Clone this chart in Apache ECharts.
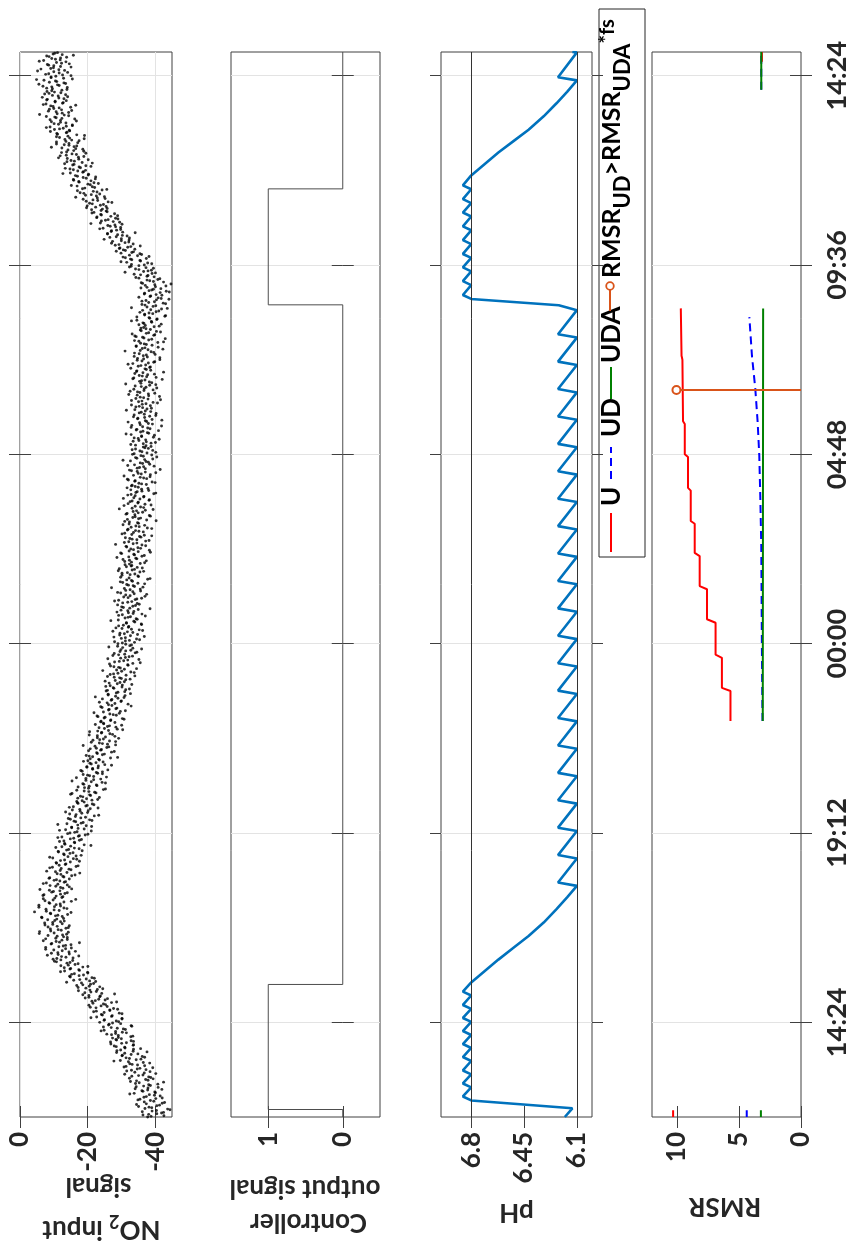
<!DOCTYPE html>
<html><head><meta charset="utf-8">
<script src="https://cdn.jsdelivr.net/npm/echarts@6/dist/echarts.min.js"></script>
<style>html,body{margin:0;padding:0;background:#fff}#c{width:851px;height:1254px}</style>
</head><body><div id="c"></div>
<script>
// ---- time axis (hours since 12:00 on day 1) ----
const timeTicks = [2.4, 7.2, 12, 16.8, 21.6, 26.4];
const timeLabels = ['14:24', '19:12', '00:00', '04:48', '09:36', '14:24'];

// ---- panel 1: NO2 input signal, one sample per minute (two interleaved lists, 2 min apart each) ----
const no2Step = 1 / 30;
const no2ValuesA = [
-37.8,-42.6,-38.1,-41.9,-36.2,-40.4,-43.7,-39.0,-35.1,-41.3,-37.4,-42.8,-39.6,-34.9,-40.2,-36.7,-41.5,-38.3,-33.8,-39.9,-36.1,-42.0,-37.9,-34.4,-38.6,-40.8,-35.3,-32.7,-37.9,-39.4,
-38.7,-33.1,-36.4,-40.2,-34.0,-31.6,-37.3,-35.5,-30.8,-36.9,-33.2,-38.4,-32.1,-29.7,-35.8,-31.4,-36.2,-30.3,-34.9,-28.6,-33.5,-29.8,-35.7,-31.0,-27.9,-33.6,-30.1,-26.8,-32.9,-28.4,
-27.4,-32.8,-29.1,-25.7,-31.5,-28.3,-24.9,-30.6,-27.0,-33.1,-26.2,-29.8,-23.6,-28.5,-25.0,-30.2,-22.7,-27.3,-24.1,-29.4,-21.8,-26.6,-28.9,-22.5,-25.8,-20.4,-24.7,-27.1,-21.3,-25.2,
-25.9,-20.4,-23.8,-18.6,-24.2,-21.0,-17.3,-22.9,-19.5,-23.6,-16.8,-20.9,-18.2,-22.4,-15.9,-19.6,-21.3,-14.7,-18.8,-16.1,-20.0,-13.2,-17.4,-15.0,-18.6,-12.1,-16.3,-13.9,-10.8,-15.6,
-9.8,-15.7,-12.3,-8.1,-14.6,-11.2,-16.4,-10.0,-13.5,-7.6,-12.8,-15.1,-9.4,-11.7,-6.9,-14.0,-10.6,-12.9,-8.3,-13.8,-10.1,-5.8,-12.2,-9.0,-14.3,-11.0,-7.4,-12.5,-9.7,-13.1,
-8.2,-12.9,-6.4,-10.5,-14.1,-9.0,-4.3,-11.6,-7.7,-13.0,-10.2,-5.6,-11.9,-8.6,-15.2,-9.8,-6.9,-12.4,-10.7,-7.1,-13.3,-9.4,-11.8,-5.9,-12.7,-14.6,-8.9,-11.2,-7.8,-13.5,
-10.1,-14.6,-8.8,-12.7,-16.3,-11.0,-13.9,-7.9,-15.1,-12.2,-9.6,-17.2,-13.4,-10.8,-14.9,-12.0,-16.8,-9.7,-14.2,-18.1,-12.9,-15.7,-11.3,-13.8,-17.5,-10.6,-15.0,-19.0,-13.2,-16.1,
-13.0,-18.2,-15.9,-12.4,-17.6,-20.1,-14.8,-16.9,-11.7,-19.0,-15.3,-21.2,-17.1,-13.9,-18.7,-16.0,-20.6,-14.3,-19.4,-22.0,-16.6,-18.3,-13.5,-20.2,-17.7,-23.1,-15.8,-19.9,-21.4,-17.0,
-16.8,-21.3,-19.7,-23.5,-17.9,-20.6,-15.4,-22.1,-19.0,-24.7,-20.3,-17.2,-22.8,-18.9,-25.3,-21.1,-19.5,-23.9,-16.7,-21.8,-20.0,-24.4,-22.6,-18.4,-26.0,-21.5,-19.8,-23.2,-25.1,-20.7,
-24.6,-20.1,-23.3,-26.8,-21.5,-19.6,-25.0,-22.7,-27.9,-23.9,-20.8,-25.7,-22.2,-28.3,-24.4,-21.1,-26.5,-23.6,-29.2,-25.3,-22.9,-27.4,-24.1,-20.6,-26.2,-28.8,-23.4,-25.9,-30.1,-24.8,
-28.1,-24.0,-26.9,-30.3,-25.2,-22.8,-27.6,-29.4,-24.7,-31.2,-26.4,-28.7,-23.9,-27.2,-32.0,-25.8,-29.9,-27.0,-24.4,-30.8,-28.3,-26.1,-32.7,-29.0,-25.5,-31.3,-27.8,-30.2,-26.7,-33.1,
-26.4,-30.9,-28.2,-32.6,-29.5,-25.9,-31.4,-27.7,-33.8,-30.1,-28.6,-34.5,-29.2,-26.8,-31.9,-33.4,-28.0,-30.7,-35.2,-29.8,-32.3,-27.5,-31.0,-34.1,-29.6,-32.8,-36.0,-30.4,-28.9,-33.0,
-29.0,-33.9,-31.2,-35.4,-30.0,-27.8,-32.7,-34.8,-29.6,-31.8,-36.3,-33.0,-28.4,-32.2,-30.6,-35.9,-31.5,-33.7,-29.1,-34.4,-32.0,-37.1,-30.3,-33.5,-28.7,-31.9,-35.0,-32.5,-30.1,-34.2,
-35.3,-30.4,-33.1,-29.2,-34.6,-32.0,-37.0,-31.3,-33.8,-28.9,-35.7,-32.6,-30.9,-36.4,-33.5,-31.6,-34.9,-29.7,-33.0,-37.8,-32.3,-35.1,-30.2,-34.0,-31.8,-36.6,-33.2,-29.4,-34.7,-32.9,
-31.1,-35.6,-33.0,-37.4,-30.5,-34.3,-32.2,-36.8,-33.7,-29.8,-35.0,-38.3,-32.8,-34.9,-31.4,-36.1,-33.5,-30.9,-37.2,-34.6,-32.5,-35.8,-39.0,-33.1,-31.0,-36.5,-34.2,-32.0,-37.7,-35.3,
-36.9,-32.3,-34.8,-31.0,-37.5,-35.1,-33.4,-38.6,-34.0,-31.7,-36.3,-34.5,-39.4,-33.2,-35.7,-30.8,-37.0,-34.9,-32.6,-38.2,-35.5,-33.7,-36.7,-31.9,-39.6,-34.3,-36.1,-32.8,-37.9,-35.0,
-33.0,-37.4,-35.2,-39.1,-34.1,-31.8,-36.6,-38.5,-33.6,-35.9,-40.2,-34.7,-32.4,-37.1,-35.4,-39.7,-33.9,-36.3,-38.0,-32.7,-36.9,-34.6,-40.5,-35.8,-33.3,-37.6,-36.1,-39.3,-34.2,-37.0,
-38.8,-34.2,-36.5,-40.1,-33.5,-37.2,-35.0,-39.5,-36.0,-32.9,-38.1,-35.7,-41.0,-34.6,-37.8,-36.3,-33.1,-39.2,-35.4,-37.5,-42.0,-34.8,-36.9,-38.4,-33.8,-40.3,-35.9,-37.1,-34.0,-38.9,
-34.3,-38.6,-36.2,-40.7,-35.1,-33.0,-37.9,-36.6,-41.3,-34.7,-38.0,-35.5,-32.6,-39.4,-36.8,-37.3,-34.1,-40.2,-35.8,-38.3,-36.0,-42.1,-33.7,-37.5,-35.3,-39.8,-36.4,-34.5,-38.7,-37.0,
-38.4,-35.0,-37.2,-33.4,-39.6,-36.1,-41.4,-34.8,-37.7,-36.5,-40.0,-33.9,-38.8,-35.6,-42.3,-37.0,-34.4,-39.1,-36.8,-40.8,-35.2,-38.1,-43.0,-36.3,-34.0,-39.9,-37.4,-41.6,-35.9,-38.6,
-35.8,-39.7,-37.1,-41.8,-36.4,-38.9,-34.6,-40.6,-38.2,-42.9,-36.9,-39.3,-35.5,-41.1,-38.7,-43.6,-37.6,-40.2,-36.1,-42.4,-39.8,-37.3,-44.1,-40.9,-38.5,-42.0,-36.8,-41.5,-43.3,-39.0,
-41.7,-37.6,-43.2,-39.9,-36.3,-42.5,-38.4,-40.8,-35.2,-39.7,-37.9,-33.8,-40.1,-36.6,-38.9,-34.2,-37.3,-32.9,-36.8,-39.0,-31.6,-35.7,-33.1,-37.4,-30.5,-34.8,-36.0,-29.9,-33.6,-31.2,
-34.0,-29.6,-32.8,-28.2,-33.5,-31.1,-27.4,-32.3,-30.0,-26.6,-31.7,-28.9,-25.9,-30.4,-27.1,-29.8,-24.6,-28.3,-26.0,-30.2,-23.8,-27.6,-25.3,-29.0,-22.7,-26.9,-24.1,-28.0,-21.9,-25.5,
-21.2,-25.8,-22.4,-19.9,-24.7,-20.6,-26.1,-23.0,-18.7,-22.9,-25.0,-19.4,-23.6,-17.8,-21.7,-24.3,-18.5,-22.1,-16.9,-20.8,-23.2,-17.5,-21.0,-15.8,-19.6,-22.4,-16.4,-20.3,-14.9,-18.8,
-19.4,-14.8,-17.9,-21.0,-15.6,-13.2,-18.4,-16.1,-20.2,-14.0,-17.3,-11.9,-16.7,-19.5,-13.8,-15.9,-18.6,-12.4,-16.0,-14.5,-10.8,-17.1,-13.6,-15.3,-19.0,-11.7,-14.2,-16.8,-10.9,-13.9,
-14.7,-10.2,-12.8,-8.9,-15.5,-11.4,-13.6,-9.3,-12.0,-16.2,-10.7,-7.8,-13.1,-11.0,-14.4,-8.4,-12.3,-10.0,-15.0,-9.1,-6.9,-12.6,-10.4,-13.7,-8.1,-11.5,-14.1,-9.6,-7.3,-12.1,
-8.0,-12.4,-9.6,-14.0,-6.8,-11.1,-13.5,-8.7,-10.5,-4.9,-12.9,-9.2,-15.1,-7.6,-11.6,-10.0,-13.2,-6.2,-9.9,-12.0,-8.5,-14.6,-10.8,-5.7,-11.9,-9.4,-13.8,-7.9,-12.5,-10.3
];
const no2ValuesB = [
-38.8,-36.4,-40.5,-42.5,-39.1,-44.4,-37.0,-38.2,-40.5,-34.5,-42.1,-36.8,-38.6,-35.5,-42.1,-37.4,-39.8,-32.5,-40.1,-36.4,-37.8,-34.1,-40.9,-36.6,-38.1,-34.2,-42.5,-34.5,-37.2,-32.4,
-38.1,-35.1,-31.0,-36.8,-38.5,-33.0,-34.7,-39.3,-31.4,-34.8,-32.5,-36.5,-27.8,-34.4,-32.4,-36.9,-30.2,-32.9,-31.0,-37.6,-28.7,-33.6,-31.1,-28.5,-33.5,-26.9,-31.5,-33.6,-28.6,-30.0,
-29.1,-33.4,-27.1,-28.3,-30.3,-24.0,-31.2,-28.8,-24.7,-32.9,-26.4,-27.4,-29.2,-24.9,-30.2,-21.0,-27.1,-24.4,-30.2,-24.9,-22.6,-26.6,-27.7,-20.8,-24.0,-25.3,-21.6,-28.6,-22.3,-23.3,
-19.3,-23.6,-20.4,-28.0,-19.2,-22.6,-20.7,-24.5,-17.2,-20.5,-18.6,-21.8,-13.8,-20.6,-17.7,-22.0,-14.9,-17.5,-15.3,-20.1,-12.0,-17.6,-14.8,-13.1,-20.1,-14.3,-17.2,-14.8,-10.2,-12.1,
-10.9,-13.6,-17.4,-11.3,-9.3,-14.5,-12.5,-7.6,-15.2,-11.5,-13.5,-9.2,-17.6,-10.7,-12.4,-7.6,-14.0,-11.0,-12.6,-5.7,-14.3,-9.1,-11.3,-13.6,-8.3,-14.6,-9.7,-7.3,-12.0,-10.3,
-10.9,-6.5,-12.5,-11.2,-9.1,-15.1,-7.8,-10.1,-13.9,-5.6,-12.0,-10.7,-8.8,-13.0,-7.4,-16.5,-10.3,-12.7,-6.8,-12.0,-14.0,-9.9,-8.7,-15.3,-12.0,-10.6,-14.0,-6.9,-13.1,-11.8,
-10.8,-8.6,-13.0,-15.3,-12.1,-17.7,-10.5,-11.9,-14.5,-8.8,-16.6,-11.6,-13.6,-10.7,-17.6,-13.2,-15.8,-8.8,-16.6,-13.1,-14.8,-11.4,-18.4,-14.4,-16.1,-12.4,-21.0,-13.3,-16.2,-11.7,
-17.6,-14.9,-11.2,-17.3,-19.3,-14.1,-16.2,-21.1,-13.5,-17.2,-15.3,-19.6,-11.2,-18.1,-16.5,-21.3,-14.9,-18.0,-16.4,-23.3,-14.7,-20.0,-17.8,-15.5,-20.8,-14.6,-19.5,-21.9,-17.2,-19.0,
-18.4,-23.0,-17.1,-18.6,-20.9,-15.0,-22.5,-20.4,-16.8,-25.3,-19.1,-20.5,-22.6,-18.6,-24.3,-15.4,-21.8,-19.5,-25.6,-20.6,-18.7,-23.0,-24.4,-18.0,-21.5,-23.1,-19.8,-27.1,-21.1,-22.5,
-18.8,-23.5,-20.8,-28.9,-20.5,-24.4,-22.9,-27.1,-20.3,-24.1,-22.6,-26.3,-18.7,-25.9,-23.5,-28.3,-21.6,-24.7,-22.9,-28.1,-20.5,-26.6,-24.2,-23.0,-30.4,-25.0,-28.4,-26.5,-22.3,-24.7,
-23.9,-26.8,-30.8,-24.9,-23.1,-28.5,-26.6,-21.9,-29.7,-26.2,-28.4,-24.3,-32.9,-26.2,-28.1,-23.5,-30.0,-27.2,-29.0,-22.3,-31.1,-26.1,-28.5,-31.0,-25.9,-32.4,-27.6,-25.4,-30.3,-28.8,
-29.6,-25.2,-31.3,-30.0,-27.9,-34.0,-26.7,-29.0,-32.8,-24.5,-30.9,-29.7,-27.8,-32.0,-26.5,-35.6,-29.4,-31.9,-26.0,-31.2,-33.3,-29.2,-27.9,-34.6,-31.3,-29.9,-33.4,-26.3,-32.5,-31.3,
-30.3,-28.0,-32.4,-34.5,-31.2,-36.8,-29.5,-30.9,-33.4,-27.5,-35.3,-30.2,-32.1,-29.2,-36.0,-31.5,-34.0,-26.9,-34.7,-31.1,-32.7,-29.2,-36.1,-32.1,-33.7,-29.9,-38.5,-30.6,-33.4,-28.9,
-34.7,-31.9,-28.0,-34.1,-36.0,-30.7,-32.6,-37.5,-29.8,-33.4,-31.3,-35.6,-27.1,-33.9,-32.1,-36.9,-30.4,-33.3,-31.6,-38.5,-29.8,-34.9,-32.6,-30.2,-35.5,-29.1,-33.9,-36.2,-31.5,-33.1,
-32.4,-36.9,-31.0,-32.4,-34.6,-28.7,-36.1,-33.9,-30.1,-38.6,-32.3,-33.6,-35.7,-31.6,-37.2,-28.3,-34.6,-32.2,-38.2,-33.2,-31.2,-35.4,-36.8,-30.2,-33.6,-35.2,-31.8,-39.0,-32.9,-34.3,
-30.5,-35.1,-32.4,-40.3,-31.8,-35.7,-34.1,-38.3,-31.4,-35.0,-33.5,-37.1,-29.4,-36.6,-34.1,-38.8,-32.0,-35.0,-33.2,-38.3,-30.6,-36.6,-34.1,-32.9,-40.2,-34.7,-38.1,-36.0,-31.7,-34.1,
-33.2,-36.0,-40.0,-34.0,-32.1,-37.5,-35.6,-30.8,-38.6,-35.0,-37.1,-33.0,-41.5,-34.7,-36.6,-31.9,-38.4,-35.6,-37.3,-30.5,-39.3,-34.2,-36.5,-39.0,-33.8,-40.2,-35.5,-33.2,-38.0,-36.5,
-37.3,-32.8,-38.8,-37.4,-35.2,-41.2,-33.8,-36.0,-39.8,-31.4,-37.7,-36.4,-34.4,-38.5,-32.9,-41.9,-35.6,-38.0,-32.0,-37.1,-39.1,-34.9,-33.6,-40.2,-36.8,-35.3,-38.7,-31.5,-37.6,-36.3,
-35.3,-33.0,-37.3,-39.4,-36.1,-41.6,-34.3,-35.6,-38.1,-32.2,-39.9,-34.8,-36.7,-33.7,-40.5,-35.9,-38.4,-31.3,-39.0,-35.4,-37.0,-33.4,-40.3,-36.2,-37.8,-34.0,-42.5,-34.6,-37.4,-32.8,
-38.6,-35.8,-32.0,-38.0,-39.9,-34.7,-36.6,-41.4,-33.8,-37.4,-35.3,-39.6,-31.1,-37.9,-36.2,-40.9,-34.4,-37.4,-35.7,-42.5,-33.9,-39.0,-36.7,-34.4,-39.6,-33.2,-38.1,-40.4,-35.6,-37.3,
-36.6,-41.2,-35.2,-36.7,-39.0,-33.0,-40.5,-38.4,-34.6,-43.1,-36.9,-38.2,-40.3,-36.3,-41.9,-33.0,-39.4,-37.0,-43.1,-38.1,-36.1,-40.4,-41.8,-35.2,-38.7,-40.3,-36.9,-44.2,-38.2,-39.5,
-35.8,-40.1,-37.1,-44.7,-35.9,-39.5,-37.6,-41.4,-34.3,-37.6,-35.7,-39.1,-31.1,-37.9,-35.2,-39.5,-32.4,-35.2,-33.0,-37.8,-29.9,-35.5,-32.7,-31.2,-38.2,-32.4,-35.5,-33.1,-28.5,-30.6,
-29.4,-31.9,-35.6,-29.3,-27.1,-32.2,-30.0,-24.9,-32.4,-28.5,-30.3,-25.9,-34.1,-27.0,-28.6,-23.6,-29.8,-26.7,-28.1,-21.0,-29.5,-24.1,-26.1,-28.3,-22.8,-28.9,-23.9,-21.3,-25.8,-24.0,
-24.4,-19.7,-25.5,-23.8,-21.4,-27.2,-19.6,-21.6,-25.2,-16.5,-22.6,-21.1,-18.9,-22.8,-17.0,-25.7,-19.2,-21.4,-15.2,-20.1,-21.9,-17.4,-15.9,-22.3,-18.7,-17.0,-20.2,-12.7,-18.6,-17.1,
-15.8,-13.4,-17.5,-19.5,-16.0,-21.4,-13.9,-15.1,-17.4,-11.4,-18.9,-13.7,-15.4,-12.3,-18.9,-14.2,-16.5,-9.3,-16.8,-13.1,-14.5,-10.8,-17.5,-13.3,-14.7,-10.8,-19.1,-11.1,-13.7,-9.0,
-14.6,-11.7,-7.8,-13.7,-15.5,-10.1,-12.0,-16.7,-8.9,-12.4,-10.3,-14.4,-5.8,-12.5,-10.7,-15.3,-8.7,-11.6,-9.8,-16.5,-7.7,-12.8,-10.4,-7.9,-13.0,-6.6,-11.3,-13.5,-8.6,-10.2,
-9.4,-13.9,-7.9,-9.4,-11.6,-5.6,-13.0,-10.9,-7.1,-15.5,-9.2,-10.6,-12.6,-8.5,-14.1,-5.2,-11.5,-9.1,-15.1,-10.0,-8.1,-12.3,-13.6,-7.0,-10.5,-12.0,-8.6,-15.8,-9.8,-11.1
];
const no2Ticks = [-40, -20, 0];

// ---- panel 2: controller output ----
const ctrlTimes  = [0, 0.19, 0.19, 3.36, 3.36, 20.59, 20.59, 23.53, 23.53, 27];
const ctrlValues = [0, 0,    1,    1,    0,    0,     1,     1,     0,     0];
const ctrlTicks = [0, 1];

// ---- panel 3: pH ----
const phTimes = [
0, 0.22, 0.42,
0.52, 0.75, 0.85, 1.08, 1.18, 1.42, 1.52, 1.75, 1.85, 2.08, 2.18, 2.41, 2.51, 2.74, 2.84, 3.08, 3.18, 3.41,
3.70, 3.99, 4.29, 4.59, 4.93, 5.27, 5.57, 5.86,
5.945, 6.555, 6.64, 7.25, 7.335, 7.945, 8.03, 8.64, 8.725, 9.335, 9.42, 10.03, 10.115, 10.725, 10.81, 11.42,
11.505, 12.115, 12.2, 12.81, 12.895, 13.505, 13.59, 14.2, 14.285, 14.895, 14.98, 15.59, 15.675, 16.285,
16.37, 16.98, 17.065, 17.675, 17.76, 18.37, 18.455, 19.065, 19.15, 19.76, 19.845, 20.455,
20.58, 20.74,
20.84, 21.09, 21.19, 21.44, 21.54, 21.78, 21.88, 22.13, 22.23, 22.48, 22.58, 22.83, 22.93, 23.17, 23.27, 23.52, 23.62, 23.87,
24.16, 24.45, 24.74, 25.03, 25.37, 25.70, 25.99, 26.28,
26.36, 26.99, 27.0
];
const phValues = [
6.18, 6.13, 6.80,
6.855, 6.80, 6.855, 6.80, 6.855, 6.80, 6.855, 6.80, 6.855, 6.80, 6.855, 6.80, 6.855, 6.80, 6.855, 6.80, 6.855, 6.80,
6.71, 6.62, 6.52, 6.42, 6.32, 6.235, 6.165, 6.10,
6.225, 6.10, 6.225, 6.10, 6.225, 6.10, 6.225, 6.10, 6.225, 6.10, 6.225, 6.10, 6.225, 6.10, 6.225, 6.10,
6.225, 6.10, 6.225, 6.10, 6.225, 6.10, 6.225, 6.10, 6.225, 6.10, 6.225, 6.10, 6.225, 6.10,
6.225, 6.10, 6.225, 6.10, 6.225, 6.10, 6.225, 6.10, 6.225, 6.10, 6.225, 6.10,
6.22, 6.80,
6.855, 6.80, 6.855, 6.80, 6.855, 6.80, 6.855, 6.80, 6.855, 6.80, 6.855, 6.80, 6.855, 6.80, 6.855, 6.80, 6.855, 6.80,
6.71, 6.62, 6.52, 6.42, 6.32, 6.235, 6.165, 6.10,
6.225, 6.10, 6.13
];
const phLimits = [6.8, 6.1];
const phTicks = [6.1, 6.45, 6.8];

// ---- panel 4: RMSR (null = gap) ----
const uTimes  = [0, 0.17, null, 10.04, 10.80, 10.88, 11.64, 11.72, 12.53, 12.62, 13.38, 13.46, 14.22, 14.30, 15.04, 15.11, 15.88, 15.95, 16.73, 16.80, 17.57, 17.64, 19.20, 19.30, 20.50, null, 26.75, 27.0];
const uValues = [10.3, 10.3, null, 5.68, 5.68, 6.37, 6.37, 6.88, 6.88, 7.57, 7.57, 8.16, 8.16, 8.56, 8.56, 8.88, 8.88, 9.10, 9.10, 9.36, 9.36, 9.50, 9.55, 9.62, 9.68, null, 3.15, 3.15];
const udTimes  = [0, 0.17, null, 10.04, 11.95, 14.48, 15.75, 16.77, 17.61, 18.46, 19.30, 20.28, null, 26.04, 27.0];
const udValues = [4.37, 4.37, null, 3.10, 3.15, 3.20, 3.28, 3.36, 3.49, 3.68, 3.95, 4.16, null, 3.2, 3.2];
const udaTimes  = [0, 0.17, null, 10.04, 20.50, null, 26.04, 27.0];
const udaValues = [3.23, 3.23, null, 3.08, 3.05, null, 3.2, 3.2];
const stemTimes  = [18.43];
const stemValues = [10.03];
const rmsrTicks = [0, 5, 10];

// ---------------------------------------------------------------
const FONT = 'Lato';
const AX = '#404040';
const TXT = '#262626';
const GRIDC = '#e3e3e3';
const grids = [
  {left: 20,  width: 152},
  {left: 231, width: 149},
  {left: 441, width: 151},
  {left: 652, width: 150}
].map(g => ({left: g.left, width: g.width, top: 52, height: 1065, show: true,
  borderColor: AX, borderWidth: 1, backgroundColor: 'transparent'}));

function pairs(ts, vs) {
  return ts.map((t, i) => (t === null || vs[i] === null) ? ['-', '-'] : [vs[i], t]);
}

function xAxes(gi, min, max, ticks, vsplit) {
  const base = {type: 'value', gridIndex: gi, min, max, inverse: true,
    axisLine: {show: false}, splitArea: {show: false}};
  return [
    Object.assign({}, base, {position: 'bottom',
      axisTick: {show: true, length: 11, customValues: ticks, lineStyle: {color: AX, width: 1}},
      axisLabel: {show: true, customValues: ticks, rotate: 90, margin: 15,
        fontFamily: FONT, fontWeight: 'bold', fontSize: 26, color: TXT},
      splitLine: {show: vsplit, lineStyle: {color: GRIDC, width: 1}}}),
    Object.assign({}, base, {position: 'top',
      axisTick: {show: true, length: 11, customValues: ticks, lineStyle: {color: AX, width: 1}},
      axisLabel: {show: false}, splitLine: {show: false}})
  ];
}
function yAxes(gi, showLabels) {
  const base = {type: 'value', gridIndex: gi, min: 0, max: 27,
    axisLine: {show: false}, splitArea: {show: false}};
  return [
    Object.assign({}, base, {position: 'right',
      axisTick: {show: true, length: 11, customValues: timeTicks, lineStyle: {color: AX, width: 1}},
      axisLabel: {show: showLabels, customValues: timeTicks, rotate: 90, margin: 23,
        fontFamily: FONT, fontWeight: 'bold', fontSize: 27, color: TXT,
        formatter: v => { const i = timeTicks.findIndex(t => Math.abs(t - v) < 1e-6); return i >= 0 ? timeLabels[i] : ''; }},
      splitLine: {show: true, lineStyle: {color: GRIDC, width: 1}}}),
    Object.assign({}, base, {position: 'left',
      axisTick: {show: true, length: 11, customValues: timeTicks, lineStyle: {color: AX, width: 1}},
      axisLabel: {show: false}, splitLine: {show: false}})
  ];
}

const xAxis = [].concat(
  xAxes(0, -45, 0, no2Ticks, true),
  xAxes(1, -0.5, 1.5, ctrlTicks, false),
  xAxes(2, 6.0, 7.0, phTicks, false),
  xAxes(3, 0, 12, rmsrTicks, false)
);
const yAxis = [].concat(yAxes(0, false), yAxes(1, false), yAxes(2, false), yAxes(3, true));

const no2Data = no2ValuesA.map((v, i) => [v, i * no2Step])
  .concat(no2ValuesB.map((v, i) => [v, (i + 0.5) * no2Step]));

const series = [
  {type: 'scatter', xAxisIndex: 0, yAxisIndex: 0, symbol: 'circle', symbolSize: 2.9,
   itemStyle: {color: '#000'}, data: no2Data},
  {type: 'line', xAxisIndex: 2, yAxisIndex: 2, showSymbol: false, symbol: 'none',
   lineStyle: {color: '#4d4d4d', width: 1}, data: pairs(ctrlTimes, ctrlValues)},
  {type: 'line', xAxisIndex: 4, yAxisIndex: 4, showSymbol: false, symbol: 'none',
   lineStyle: {color: '#0072BD', width: 2.6}, data: pairs(phTimes, phValues),
   markLine: {silent: true, symbol: 'none', label: {show: false}, animation: false,
     lineStyle: {color: '#333', width: 1, type: 'solid'},
     data: phLimits.map(v => ({xAxis: v}))}},
  {name: 'UD', type: 'line', xAxisIndex: 6, yAxisIndex: 6, showSymbol: false, symbol: 'none', connectNulls: false,
   lineStyle: {color: '#0000FF', width: 2, type: [8, 5]}, data: pairs(udTimes, udValues)},
  {name: 'U', type: 'line', xAxisIndex: 6, yAxisIndex: 6, showSymbol: false, symbol: 'none', connectNulls: false,
   lineStyle: {color: '#FF0000', width: 2}, data: pairs(uTimes, uValues)},
  {name: 'UDA', type: 'line', xAxisIndex: 6, yAxisIndex: 6, showSymbol: false, symbol: 'none', connectNulls: false,
   lineStyle: {color: '#008000', width: 2}, data: pairs(udaTimes, udaValues)},
  {name: 'stem', type: 'line', xAxisIndex: 6, yAxisIndex: 6, symbol: 'emptyCircle', symbolSize: 8, showSymbol: true,
   lineStyle: {color: '#D95319', width: 2}, itemStyle: {color: '#D95319', borderWidth: 1.8},
   data: stemTimes.flatMap((t, i) => [{value: [0, t], symbol: 'none'}, {value: [stemValues[i], t]}])}
];

// axis names (upside down, as in the rotated figure)
const nameFont = 'bold 26px ' + FONT;
function flipText(x, y, text, rich) {
  const st = {text, font: nameFont, fill: TXT, align: 'center', verticalAlign: 'middle',
    textAlign: 'center', textVerticalAlign: 'middle'};
  if (rich) st.rich = rich;
  return {type: 'text', x, y, rotation: Math.PI, style: st, z: 100};
}
const mainTok = {fontFamily: FONT, fontWeight: 'bold', fontSize: 26, lineHeight: 34, verticalAlign: 'middle', color: TXT};
const subTok = {fontFamily: FONT, fontWeight: 'bold', fontSize: 18, lineHeight: 18, verticalAlign: 'bottom', color: TXT};

// legend: pieces laid out along the rotated legend box, widths measured from the font
const mctx = document.createElement('canvas').getContext('2d');
function textW(str, size) { mctx.font = 'bold ' + size + 'px ' + FONT; return mctx.measureText(str).width; }
function legPiece(x, y, str, size) {
  return {type: 'text', style: {x, y, text: str, font: 'bold ' + size + 'px ' + FONT, fill: '#000',
    align: 'left', verticalAlign: 'middle', textAlign: 'left', textVerticalAlign: 'middle'}};
}
const legPieces = [['RMSR', 25, 12.5], ['UD', 22, 24], ['>RMSR', 25, 12.5], ['UDA', 22, 24], ['*fs', 20, 8.5]];
const legChildren = [
  {type: 'rect', shape: {x: 0, y: 0, width: 548, height: 46}, style: {fill: '#fff', stroke: '#262626', lineWidth: 1}},
  {type: 'line', shape: {x1: 5, y1: 12, x2: 44, y2: 12}, style: {stroke: '#FF0000', lineWidth: 2}},
  legPiece(51, 12.5, 'U', 26),
  {type: 'line', shape: {x1: 78, y1: 12, x2: 110, y2: 12}, style: {stroke: '#0000FF', lineWidth: 2, lineDash: [8, 5]}},
  legPiece(120, 12.5, 'UD', 26),
  {type: 'line', shape: {x1: 158, y1: 12, x2: 190, y2: 12}, style: {stroke: '#008000', lineWidth: 2}},
  legPiece(194, 12.5, 'UDA', 26),
  {type: 'line', shape: {x1: 246, y1: 11, x2: 267, y2: 11}, style: {stroke: '#D95319', lineWidth: 2}},
  {type: 'circle', shape: {cx: 271, cy: 11, r: 3.8}, style: {fill: '#fff', stroke: '#D95319', lineWidth: 1.8}}
];
let lx = 279;
legPieces.forEach(([s, size, y]) => { legChildren.push(legPiece(lx, y, s, size)); lx += textW(s, size); });
const legend = {type: 'group', x: 599, y: 557, rotation: Math.PI / 2, z: 200, children: legChildren};

const chart = echarts.init(document.getElementById('c'), null, {renderer: 'canvas'});
chart.setOption({
  animation: false,
  backgroundColor: '#fff',
  grid: grids,
  xAxis, yAxis, series,
  graphic: [
    flipText(98.5, 1186, 'signal'),
    flipText(101.5, 1229, '{m|NO}{s|2}{m| input}', {m: mainTok, s: subTok}),
    flipText(305, 1188, 'output signal'),
    flipText(308.5, 1222, 'Controller'),
    flipText(516.5, 1212, 'pH'),
    flipText(725, 1206, 'RMSR'),
    legend
  ]
});
</script></body></html>
